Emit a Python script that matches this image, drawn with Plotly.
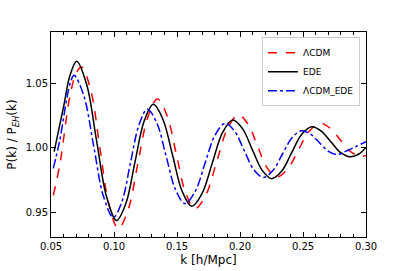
import plotly.graph_objects as go

# EDE (black, solid)
k_ede = [0.0525, 0.060, 0.065, 0.0704, 0.0783, 0.0862, 0.0942, 0.1021,
         0.1094, 0.1166, 0.1239, 0.1312, 0.1388, 0.1465, 0.1541, 0.1617,
         0.1698, 0.178, 0.1861, 0.1942, 0.2020, 0.2097, 0.2175, 0.2252,
         0.2331, 0.241, 0.249, 0.2569, 0.2645, 0.2721, 0.2797, 0.2873, 0.294, 0.30]
v_ede = [0.997, 1.032, 1.056, 1.0673, 1.0492, 1.0054, 0.9616, 0.9435,
         0.9567, 0.9887, 1.0206, 1.0338, 1.0222, 0.9942, 0.9662, 0.9546,
         0.9644, 0.9881, 1.0118, 1.0216, 1.0149, 0.9988, 0.9827, 0.976,
         0.9819, 0.9962, 1.0105, 1.0164, 1.013, 1.0047, 0.9964, 0.993, 0.995, 1.0003]

# LCDM (red, dashed)
k_lcdm = [0.0518, 0.057, 0.065, 0.070, 0.0743, 0.0816, 0.0888, 0.0961, 0.1034,
          0.1112, 0.1189, 0.1267, 0.1344, 0.1419, 0.1494, 0.1568, 0.1643,
          0.1729, 0.1815, 0.1901, 0.1987, 0.2063, 0.2139, 0.2215, 0.2291,
          0.2377, 0.2463, 0.2549, 0.2635, 0.2715, 0.2795, 0.2875, 0.2955, 0.30]
v_lcdm = [0.963, 0.987, 1.040, 1.058, 1.0628, 1.0445, 1.000, 0.9555, 0.9372,
          0.9519, 0.9876, 1.0233, 1.038, 1.0256, 0.9954, 0.9652, 0.9528,
          0.9634, 0.9892, 1.0149, 1.0255, 1.0185, 1.0015, 0.9844, 0.9774,
          0.9835, 0.9982, 1.0129, 1.019, 1.0153, 1.0063, 0.9972, 0.9935, 0.994]

# LCDM_EDE (blue, dash-dot)
k_le = [0.0518, 0.057, 0.0625, 0.0655, 0.0683, 0.0761, 0.0839, 0.0917, 0.0995,
        0.1063, 0.113, 0.1198, 0.1265, 0.134, 0.1414, 0.1489, 0.1563,
        0.1643, 0.1722, 0.1802, 0.1881, 0.1957, 0.2033, 0.2109, 0.2185,
        0.2261, 0.2337, 0.2414, 0.249, 0.256, 0.2629, 0.2699, 0.2768, 0.2845, 0.292, 0.30]
v_le = [0.984, 1.006, 1.038, 1.051, 1.0564, 1.0403, 1.0012, 0.9621, 0.946,
        0.9583, 0.988, 1.0177, 1.030, 1.0193, 0.9934, 0.9674, 0.9567,
        0.9658, 0.9879, 1.0099, 1.019, 1.0129, 0.998, 0.9831, 0.977,
        0.9823, 0.9952, 1.008, 1.0133, 1.0106, 1.0041, 0.9975, 0.9948, 0.9975, 1.001, 1.0047]

x_ticks = [0.05, 0.10, 0.15, 0.20, 0.25, 0.30]
y_ticks = [0.95, 1.00, 1.05]

fig = go.Figure()
fig.add_trace(go.Scatter(x=k_lcdm, y=v_lcdm, mode="lines", name="ΛCDM",
                         line=dict(color="red", width=1.5, dash="dash", shape="spline", smoothing=1.0)))
fig.add_trace(go.Scatter(x=k_ede, y=v_ede, mode="lines", name="EDE",
                         line=dict(color="black", width=1.5, shape="spline", smoothing=1.0)))
fig.add_trace(go.Scatter(x=k_le, y=v_le, mode="lines", name="ΛCDM_EDE",
                         line=dict(color="blue", width=1.5, dash="dashdot", shape="spline", smoothing=1.0)))

axis_common = dict(showline=True, linecolor="black", linewidth=1, mirror="ticks",
                   ticks="inside", ticklen=5, tickcolor="black", showgrid=False,
                   zeroline=False, automargin=False,
                   tickfont=dict(family="DejaVu Sans", size=10, color="black"))

fig.update_xaxes(range=[0.05, 0.30], tickvals=x_ticks, tickformat=".2f",
                 title=dict(text="k [h/Mpc]", font=dict(family="DejaVu Sans", size=12, color="black"), standoff=4),
                 minor=dict(ticks="inside", ticklen=3, tickcolor="black", dtick=0.01, showgrid=False),
                 **axis_common)
fig.update_yaxes(range=[0.9307, 1.09], tickvals=y_ticks, tickformat=".2f",
                 title=dict(text="P(k) / P<sub><i>EH</i></sub>(k)", font=dict(family="DejaVu Sans", size=12, color="black"), standoff=6),
                 **axis_common)

fig.update_layout(
    width=407, height=271,
    margin=dict(l=51, r=41, t=32, b=34),
    paper_bgcolor="white", plot_bgcolor="white",
    legend=dict(x=0.981, y=0.975, xanchor="right", yanchor="top",
                bgcolor="white", bordercolor="#cccccc", borderwidth=1,
                font=dict(family="DejaVu Sans", size=9, color="black"),
                tracegroupgap=0, itemwidth=30),
)

fig.write_html("out.html", config={"displayModeBar": False, "staticPlot": True})

# remove the default page margin so the figure sits at the window's top-left corner
with open("out.html", "r", encoding="utf-8") as f:
    html = f.read()
html = html.replace("<head>", "<head><style>html,body{margin:0;padding:0;overflow:hidden;}</style>", 1)
with open("out.html", "w", encoding="utf-8") as f:
    f.write(html)
